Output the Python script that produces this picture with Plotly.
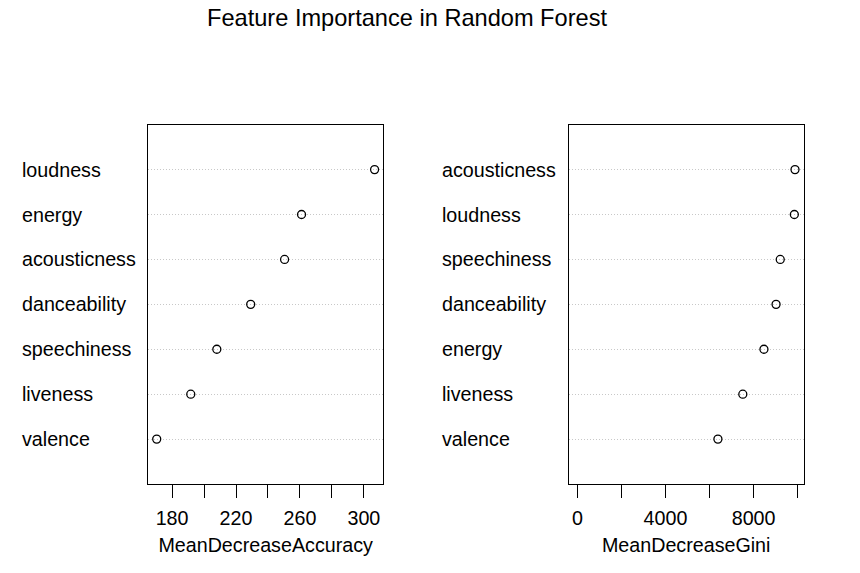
import plotly.graph_objects as go

# random forest variable importance, ordered top to bottom as in varImpPlot
acc_features = ["loudness", "energy", "acousticness", "danceability",
                "speechiness", "liveness", "valence"]
acc_values = [306.7, 261.0, 250.4, 229.2, 208.0, 191.7, 170.4]

gini_features = ["acousticness", "loudness", "speechiness", "danceability",
                 "energy", "liveness", "valence"]
gini_values = [9880, 9850, 9210, 9020, 8470, 7510, 6380]

acc_ticks = [180, 220, 260, 300]
gini_ticks = [0, 4000, 8000]

FONT = "Liberation Sans, Arial, sans-serif"
W, H = 860, 573
OFF = 8  # page margin of the browser


def px(x):
    return (x - OFF) / W


def py(y):
    return 1 - (y - OFF) / H


def r_range(lo, hi):
    # R pads the data range by 4% on each side
    pad = (hi - lo) * 0.04
    return [lo - pad, hi + pad]


n = len(acc_features)
rows = list(range(n, 0, -1))  # first feature at the top

fig = go.Figure()

fig.add_trace(go.Scatter(
    x=acc_values, y=rows, mode="markers", xaxis="x", yaxis="y",
    marker=dict(symbol="circle-open", size=8, color="black", line=dict(width=1.3)),
    showlegend=False, hoverinfo="x+text", text=acc_features,
))
fig.add_trace(go.Scatter(
    x=gini_values, y=rows, mode="markers", xaxis="x2", yaxis="y2",
    marker=dict(symbol="circle-open", size=8, color="black", line=dict(width=1.3)),
    showlegend=False, hoverinfo="x+text", text=gini_features,
))

# feature names, left aligned like R's dotchart
annotations = []
for name, r in zip(acc_features, rows):
    annotations.append(dict(text=name, x=px(20), xref="paper", y=r, yref="y",
                            xanchor="left", yanchor="middle", showarrow=False,
                            font=dict(size=19.7, color="black", family=FONT)))
for name, r in zip(gini_features, rows):
    annotations.append(dict(text=name, x=px(440), xref="paper", y=r, yref="y2",
                            xanchor="left", yanchor="middle", showarrow=False,
                            font=dict(size=19.7, color="black", family=FONT)))

ydom = [py(484), py(124.7)]

xaxis_common = dict(
    showline=True, linecolor="black", linewidth=1, mirror=True,
    showgrid=False, zeroline=False, ticks="outside", ticklen=13,
    tickcolor="black", tickfont=dict(size=19.7, color="black", family=FONT),
    ticklabelstandoff=3,
    title_font=dict(size=19.7, color="black", family=FONT), title_standoff=10,
)
yaxis_common = dict(
    range=[0, 8], tickvals=rows, showticklabels=False, ticks="",
    showline=True, linecolor="black", linewidth=1, mirror=True,
    showgrid=True, gridcolor="#c8c8c8", griddash="1px,2px", gridwidth=1,
    zeroline=False, domain=ydom,
)

fig.update_layout(
    width=W, height=H,
    margin=dict(l=0, r=0, t=0, b=0),
    paper_bgcolor="white", plot_bgcolor="white",
    font=dict(family=FONT, color="black"),
    title=dict(text="Feature Importance in Random Forest", x=px(407), xanchor="center",
               y=py(18), yanchor="middle", font=dict(size=23.6, color="black", family=FONT)),
    xaxis=dict(domain=[px(148), px(383.3)], anchor="y",
               range=r_range(min(acc_values), max(acc_values)),
               tickvals=acc_ticks, title_text="MeanDecreaseAccuracy",
               minor=dict(dtick=20, tick0=180, ticks="outside", ticklen=13,
                          tickcolor="black", showgrid=False),
               **xaxis_common),
    yaxis=dict(anchor="x", **yaxis_common),
    xaxis2=dict(domain=[px(568.7), px(803.7)], anchor="y2",
                range=r_range(0, max(gini_values)),
                tickvals=gini_ticks, title_text="MeanDecreaseGini",
                minor=dict(dtick=2000, tick0=0, ticks="outside", ticklen=13,
                           tickcolor="black", showgrid=False),
                **xaxis_common),
    yaxis2=dict(anchor="x2", **yaxis_common),
    annotations=annotations,
)

fig.write_html("out.html")
